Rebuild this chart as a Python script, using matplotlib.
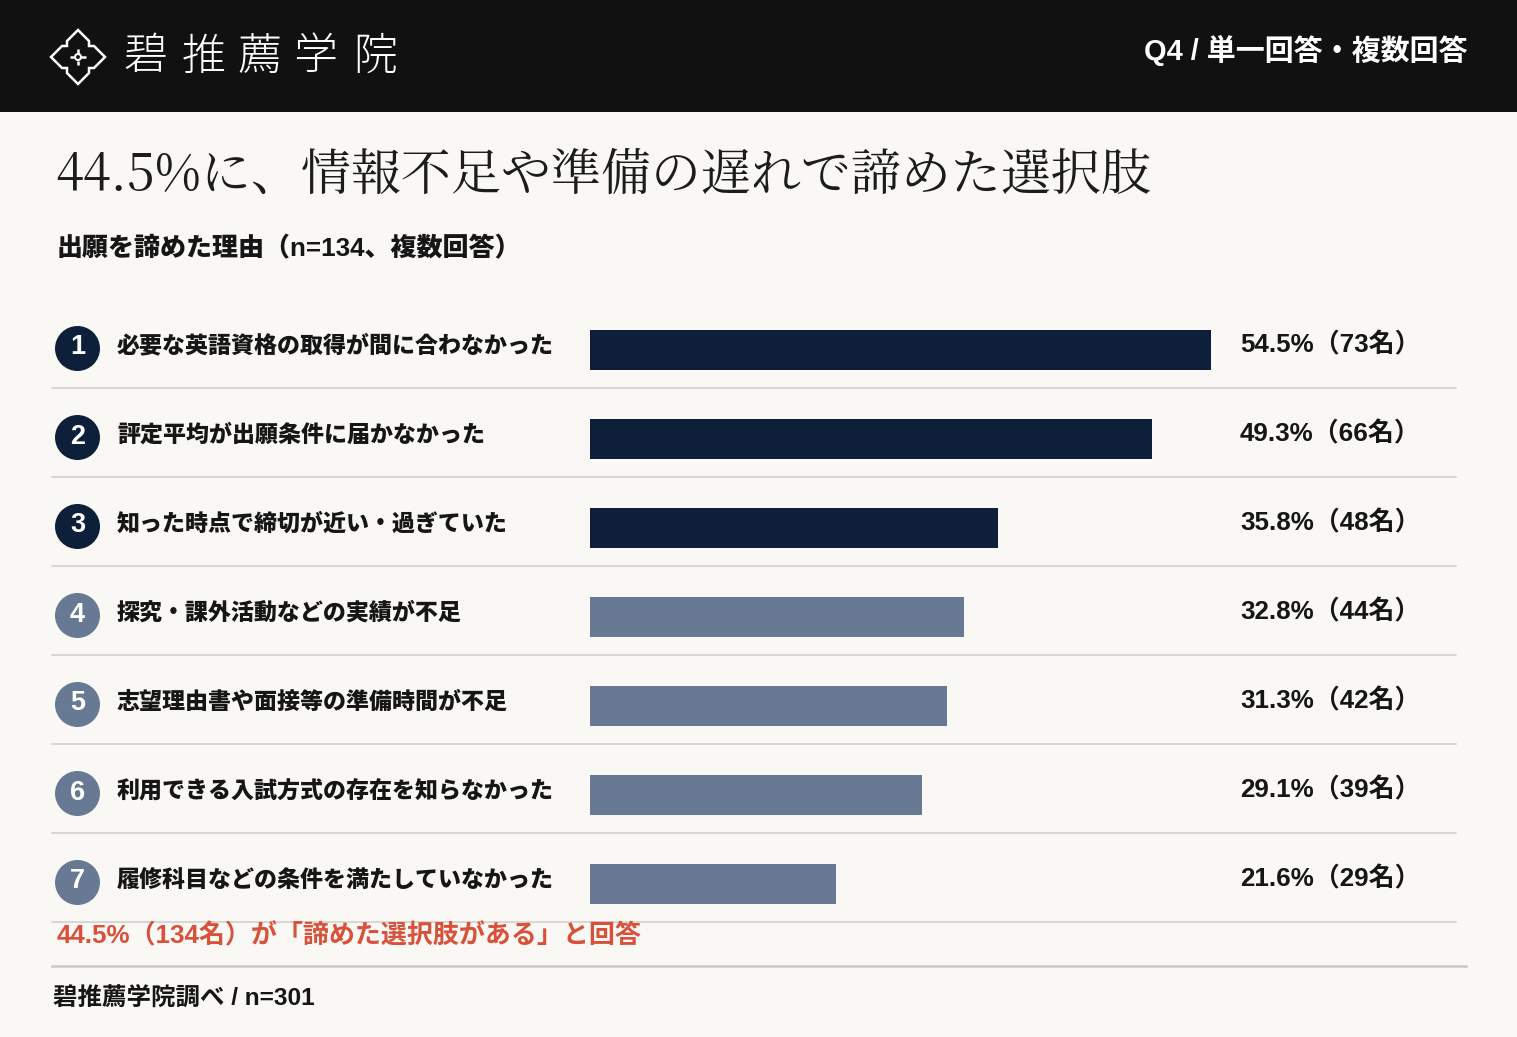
import matplotlib
matplotlib.use("Agg")
import matplotlib.pyplot as plt
from matplotlib.patches import Rectangle, Circle, Polygon

# ---------------- data ----------------
categories = [
    "必要な英語資格の取得が間に合わなかった",
    "評定平均が出願条件に届かなかった",
    "知った時点で締切が近い・過ぎていた",
    "探究・課外活動などの実績が不足",
    "志望理由書や面接等の準備時間が不足",
    "利用できる入試方式の存在を知らなかった",
    "履修科目などの条件を満たしていなかった",
]
percents = [54.5, 49.3, 35.8, 32.8, 31.3, 29.1, 21.6]
counts = [73, 66, 48, 44, 42, 39, 29]
ranks = [1, 2, 3, 4, 5, 6, 7]

DARK = "#0e2039"
LIGHT = "#687a93"
bar_colors = [DARK, DARK, DARK, LIGHT, LIGHT, LIGHT, LIGHT]

brand_chars = ["碧", "推", "薦", "学", "院"]
header_tag = "Q4 / 単一回答・複数回答"
title = "44.5%に、情報不足や準備の遅れで諦めた選択肢"
subtitle = "出願を諦めた理由（n=134、複数回答）"
highlight = "44.5%（134名）が「諦めた選択肢がある」と回答"
source = "碧推薦学院調べ / n=301"

# ---------------- setup ----------------
W, H, DPI = 1517, 1037, 100
JP = "Noto Sans CJK JP"
SANS = ["Liberation Sans", JP, "DejaVu Sans"]
SERIF = ["Noto Serif CJK JP", "Liberation Serif", JP]
plt.rcParams["font.family"] = [JP, "DejaVu Sans"]

BG = "#f9f8f4"
TXT = "#161616"
RED = "#d9503b"
SEP = "#d0cec9"


def pt(px):
    return px * 72.0 / DPI


fig = plt.figure(figsize=(W / DPI, H / DPI), dpi=DPI, facecolor=BG)

# overlay axes in pixel coordinates (origin top-left)
ov = fig.add_axes([0, 0, 1, 1], zorder=0)
ov.set_xlim(0, W)
ov.set_ylim(H, 0)
ov.axis("off")
ov.patch.set_alpha(0)

# header
ov.add_patch(Rectangle((0, 0), W, 112, facecolor="#111111", edgecolor="none"))

# logo icon
cx, cy = 78, 57
a, b, c = 27, 11, 16
pts = [(0, -a), (b, -c), (b, -b), (c, -b), (a, 0), (c, b), (b, b), (b, c),
       (0, a), (-b, c), (-b, b), (-c, b), (-a, 0), (-c, -b), (-b, -b), (-b, -c)]
ov.add_patch(Polygon([(cx + x, cy + y) for x, y in pts], closed=True,
                     fill=False, edgecolor="white", linewidth=1.8, joinstyle="miter"))
ov.plot([cx - 8, cx - 3.5], [cy, cy], color="white", lw=1.8, solid_capstyle="butt")
ov.plot([cx + 3.5, cx + 8], [cy, cy], color="white", lw=1.8, solid_capstyle="butt")
ov.plot([cx, cx], [cy - 8, cy - 3.5], color="white", lw=1.8, solid_capstyle="butt")
ov.plot([cx, cx], [cy + 3.5, cy + 8], color="white", lw=1.8, solid_capstyle="butt")
ov.add_patch(Circle((cx, cy), 3.0, fill=False, edgecolor="white", linewidth=1.5))

# brand text
brand_x = [145, 204, 259, 315, 375]
for ch, x in zip(brand_chars, brand_x):
    ov.text(x, 57, ch, color="white", fontsize=pt(44), fontweight="light",
            ha="center", va="center", family=[JP])

ov.text(1468, 50, header_tag, color="white", fontsize=pt(29), fontweight="bold",
        ha="right", va="center", family=SANS)

# title
ov.text(55, 176, title, color="#1c1c1c", fontsize=pt(50), fontweight="normal",
        ha="left", va="center", family=SERIF)

# subtitle
ov.text(57, 249, subtitle, color=TXT, fontsize=pt(26), fontweight="heavy",
        ha="left", va="center", family=SANS)

# rows
row_top = 305.5
pitch = 89
for i, (lab, r, p, n, col) in enumerate(zip(categories, ranks, percents, counts, bar_colors)):
    yc = row_top + pitch * (i + 0.5)
    ov.add_patch(Circle((77.5, yc - 1.5), 22.5, facecolor=col, edgecolor="none"))
    ov.text(77.5, yc - 2.5, str(r), color="white", fontsize=pt(27), fontweight="bold",
            ha="center", va="center", family=SANS)
    ov.text(117, yc - 4.5, lab, color=TXT, fontsize=pt(23), fontweight="heavy",
            ha="left", va="center", family=[JP])
    ov.text(1240, yc - 5.5, f"{p:.1f}%（{n}名）", color=TXT, fontsize=pt(26),
            fontweight="bold", ha="left", va="center", family=SANS)
    ov.plot([52, 1456], [yc + 38, yc + 38], color=SEP, lw=1.1)

# highlight & source
ov.text(57, 936, highlight, color=RED, fontsize=pt(26), fontweight="bold",
        ha="left", va="center", family=SANS)
ov.plot([52, 1466], [966, 966], color="#c9c7c1", lw=1.8)
ov.text(53, 998, source, color=TXT, fontsize=pt(24.5), fontweight="bold",
        ha="left", va="center", family=SANS)

# bar axes
PX_PER_PCT = 11.394
XMAX = 60
bar_left_px = 590
axb = fig.add_axes([bar_left_px / W, (H - (row_top + 7 * pitch)) / H,
                    XMAX * PX_PER_PCT / W, 7 * pitch / H], zorder=1)
axb.patch.set_alpha(0)
axb.set_xlim(0, XMAX)
axb.set_ylim(6.5, -0.5)
axb.axis("off")
axb.barh(range(len(percents)), percents, height=40 / pitch, color=bar_colors,
         edgecolor="none", left=0)

fig.savefig("out.png", dpi=DPI, facecolor=BG)
